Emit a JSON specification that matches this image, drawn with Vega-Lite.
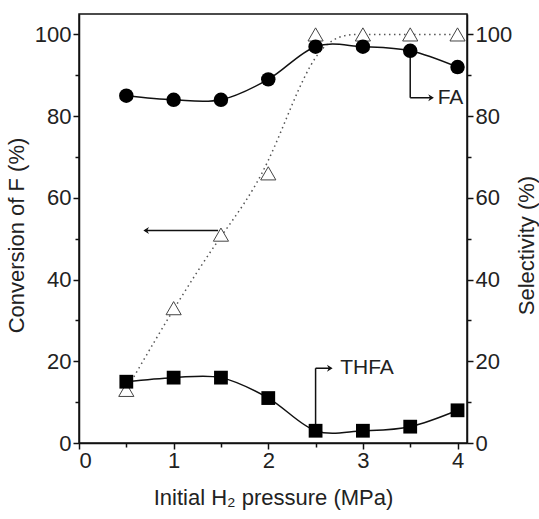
{
  "$schema": "https://vega.github.io/schema/vega-lite/v6.json",
  "width": 388,
  "height": 429,
  "autosize": {"type": "none"},
  "padding": {"left": 79, "top": 14, "right": 72, "bottom": 76},
  "background": "white",
  "config": {
    "view": {"stroke": "#111", "strokeWidth": 1.5},
    "font": "Liberation Sans",
    "axis": {
      "labelFont": "Liberation Sans", "titleFont": "Liberation Sans",
      "labelFontSize": 22, "titleFontSize": 22, "titleFontWeight": "normal",
      "labelColor": "#222", "titleColor": "#222",
      "domainColor": "#111", "domainWidth": 1.5,
      "tickColor": "#111", "tickWidth": 1.5, "grid": false
    }
  },
  "datasets": {
    "main": [
      {"p": 0.5, "conv": 13, "fa": 85, "thfa": 15},
      {"p": 1.0, "conv": 33, "fa": 84, "thfa": 16},
      {"p": 1.5, "conv": 51, "fa": 84, "thfa": 16},
      {"p": 2.0, "conv": 66, "fa": 89, "thfa": 11},
      {"p": 2.5, "conv": 100, "fa": 97, "thfa": 3},
      {"p": 3.0, "conv": 100, "fa": 97, "thfa": 3},
      {"p": 3.5, "conv": 100, "fa": 96, "thfa": 4},
      {"p": 4.0, "conv": 100, "fa": 92, "thfa": 8}
    ],
    "segL": [
      {"p": 1.47, "p2": 0.7, "y": 52, "y2": 52}
    ],
    "headL": [
      {"p": 0.68, "y": 52}
    ],
    "segR": [
      {"p": 3.5, "p2": 3.5, "y": 96, "y2": 84.5},
      {"p": 3.5, "p2": 3.73, "y": 84.5, "y2": 84.5},
      {"p": 2.5, "p2": 2.5, "y": 3, "y2": 18.3},
      {"p": 2.5, "p2": 2.66, "y": 18.3, "y2": 18.3}
    ],
    "headR": [
      {"p": 3.75, "y": 84.5},
      {"p": 2.68, "y": 18.3}
    ],
    "labels": [
      {"p": 3.79, "y": 84.5, "label": "FA"},
      {"p": 2.76, "y": 18.3, "label": "THFA"}
    ]
  },
  "encoding": {
    "x": {
      "field": "p", "type": "quantitative",
      "scale": {"domain": [0, 4.1], "nice": false, "zero": false},
      "axis": {
        "title": "Initial H₂ pressure (MPa)",
        "values": [0, 0.5, 1, 1.5, 2, 2.5, 3, 3.5, 4],
        "labelExpr": "datum.value % 1 === 0 ? format(datum.value, 'd') : ''",
        "tickSize": {"condition": {"test": "datum.value % 1 === 0", "value": 6}, "value": 4},
        "labelPadding": 1,
        "titlePadding": 16
      }
    }
  },
  "layer": [
    {
      "encoding": {
        "y": {
          "field": "conv", "type": "quantitative",
          "scale": {"domain": [0, 105], "nice": false},
          "axis": {
            "orient": "left",
            "title": "Conversion of F (%)",
            "values": [0, 10, 20, 30, 40, 50, 60, 70, 80, 90, 100],
            "labelExpr": "datum.value % 20 === 0 ? datum.label : ''",
            "tickSize": {"condition": {"test": "datum.value % 20 === 0", "value": 6}, "value": 4},
            "labelPadding": 2,
            "titlePadding": 6,
            "titleY": 221
          }
        }
      },
      "layer": [
        {
          "data": {"name": "main"},
          "mark": {"type": "line", "interpolate": "basis", "color": "#555", "strokeWidth": 1.5, "strokeDash": [1.5, 3.5]}
        },
        {
          "data": {"name": "main"},
          "mark": {"type": "point", "shape": "triangle-up", "filled": false, "stroke": "#444", "strokeWidth": 1, "size": 230, "opacity": 1, "fill": "white", "fillOpacity": 1}
        },
        {
          "data": {"name": "segL"},
          "mark": {"type": "rule", "color": "#111", "strokeWidth": 1.5},
          "encoding": {
            "y": {"field": "y", "type": "quantitative"},
            "x2": {"field": "p2"},
            "y2": {"field": "y2"}
          }
        },
        {
          "data": {"name": "headL"},
          "mark": {"type": "point", "shape": "M0,0L1.6,-1L1.1,0L1.6,1Z", "filled": true, "color": "#111", "size": 50, "opacity": 1},
          "encoding": {"y": {"field": "y", "type": "quantitative"}}
        }
      ]
    },
    {
      "layer": [
        {
          "data": {"name": "main"},
          "mark": {"type": "line", "interpolate": "cardinal", "color": "#111", "strokeWidth": 1.5},
          "encoding": {"y": {"field": "fa", "type": "quantitative"}}
        },
        {
          "data": {"name": "main"},
          "mark": {"type": "line", "interpolate": "cardinal", "color": "#111", "strokeWidth": 1.5},
          "encoding": {"y": {"field": "thfa", "type": "quantitative"}}
        },
        {
          "data": {"name": "segR"},
          "mark": {"type": "rule", "color": "#111", "strokeWidth": 1.5},
          "encoding": {
            "y": {"field": "y", "type": "quantitative"},
            "x2": {"field": "p2"},
            "y2": {"field": "y2"}
          }
        },
        {
          "data": {"name": "main"},
          "mark": {"type": "point", "shape": "circle", "filled": true, "color": "#000", "size": 210, "opacity": 1},
          "encoding": {"y": {"field": "fa", "type": "quantitative"}}
        },
        {
          "data": {"name": "main"},
          "mark": {"type": "point", "shape": "square", "filled": true, "color": "#000", "size": 190, "opacity": 1},
          "encoding": {"y": {"field": "thfa", "type": "quantitative"}}
        },
        {
          "data": {"name": "headR"},
          "mark": {"type": "point", "shape": "M0,0L-1.6,-1L-1.1,0L-1.6,1Z", "filled": true, "color": "#111", "size": 50, "opacity": 1},
          "encoding": {"y": {"field": "y", "type": "quantitative"}}
        },
        {
          "data": {"name": "labels"},
          "mark": {"type": "text", "align": "left", "baseline": "middle", "font": "Liberation Sans", "fontSize": 21, "color": "#222"},
          "encoding": {
            "y": {"field": "y", "type": "quantitative"},
            "text": {"field": "label"}
          }
        }
      ],
      "encoding": {
        "y": {
          "type": "quantitative",
          "scale": {"domain": [0, 105], "nice": false},
          "axis": {
            "orient": "right",
            "title": "Selectivity (%)",
            "titleAngle": 270,
            "titleX": 59,
            "titleY": 231,
            "titleAlign": "center",
            "titleBaseline": "middle",
            "values": [0, 10, 20, 30, 40, 50, 60, 70, 80, 90, 100],
            "labelExpr": "datum.value % 20 === 0 ? datum.label : ''",
            "tickSize": {"condition": {"test": "datum.value % 20 === 0", "value": 6}, "value": 4},
            "labelPadding": 2
          }
        }
      }
    }
  ],
  "resolve": {"scale": {"y": "independent"}}
}
